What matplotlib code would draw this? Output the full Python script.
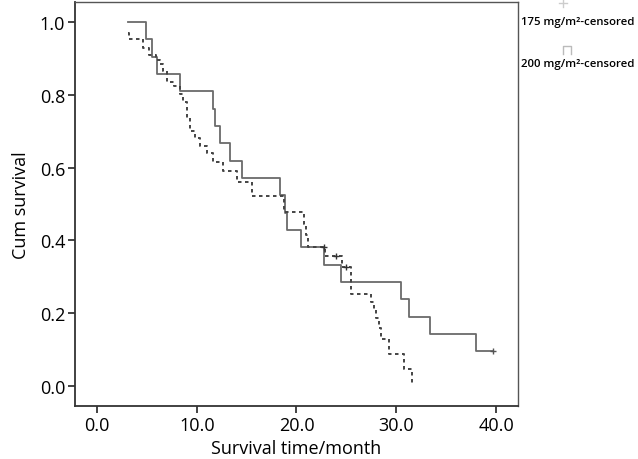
import matplotlib
matplotlib.use("Agg")
import matplotlib.pyplot as plt
from matplotlib.lines import Line2D

# Group 175 mg/m2 (solid): event times and survival after each step
t175 = [3.1, 4.9, 5.5, 6.0, 8.3, 11.6, 11.8, 12.3, 13.3, 14.5, 18.3, 18.8, 19.0,
        20.5, 22.8, 24.5, 30.5, 31.3, 33.4, 38.0, 39.7]
s175 = [1.0, 0.952, 0.905, 0.857, 0.810, 0.762, 0.714, 0.667, 0.619, 0.571, 0.524,
        0.476, 0.429, 0.381, 0.333, 0.286, 0.238, 0.190, 0.143, 0.095, 0.095]
c175_t = [39.7]
c175_s = [0.095]

# Group 200 mg/m2 (dashed)
t200 = [3.1, 3.2, 4.6, 5.2, 5.9, 6.3, 6.6, 7.0, 7.7, 8.3, 8.6, 9.0, 9.3, 9.8, 10.3,
        11.0, 11.6, 12.6, 14.0, 15.5, 18.7, 20.8, 21.0, 21.2, 22.9, 24.6, 25.5,
        27.5, 27.8, 28.0, 28.3, 28.5, 29.3, 30.8, 31.6]
s200 = [0.970, 0.953, 0.928, 0.910, 0.897, 0.884, 0.866, 0.835, 0.825, 0.802, 0.780,
        0.735, 0.700, 0.680, 0.660, 0.640, 0.615, 0.592, 0.560, 0.523, 0.478, 0.445,
        0.415, 0.382, 0.357, 0.327, 0.253, 0.230, 0.210, 0.188, 0.160, 0.129, 0.088,
        0.047, 0.0]
c200_t = [22.8, 24.0, 25.0]
c200_s = [0.382, 0.357, 0.327]

xticks = [0, 10, 20, 30, 40]
yticks = [0.0, 0.2, 0.4, 0.6, 0.8, 1.0]

plt.rcParams['font.family'] = ['Open Sans', 'DejaVu Sans']

fig = plt.figure(figsize=(6.38, 4.60), dpi=100)
ax = fig.add_axes([75/638, 53/460, 443/638, 404/460])

ax.step(t175, s175, where='post', color='#6a6a6a', lw=1.3, ls='-')
ax.step(t200, s200, where='post', color='#444444', lw=1.4, ls=(0, (1.8, 1.8)))
ax.plot(c175_t, c175_s, ls='none', marker='+', ms=5, mew=1.0, color='#555555')
ax.plot(c200_t, c200_s, ls='none', marker='+', ms=5, mew=1.0, color='#333333')

ax.set_xlim(-2.2, 42.2)
ax.set_ylim(-0.055, 1.055)
ax.set_xticks(xticks)
ax.set_xticklabels([f"{v:.1f}" for v in xticks])
ax.set_yticks(yticks)
ax.set_yticklabels([f"{v:.1f}" for v in yticks])
ax.tick_params(direction='out', length=5, width=1.2, color='#222222',
               labelsize=13, labelcolor='#000000', pad=2)
for side in ['left', 'bottom']:
    ax.spines[side].set_color('#333333')
    ax.spines[side].set_linewidth(1.3)
for side in ['top', 'right']:
    ax.spines[side].set_color('#555555')
    ax.spines[side].set_linewidth(1.0)

ax.set_xlabel('Survival time/month', fontsize=13, color='#000000', labelpad=4)
ax.set_ylabel('Cum survival', fontsize=13, color='#000000', labelpad=7)

# Legend at the right edge
fig.text(521/638, 1 - 22/460, '175 mg/m²-censored', fontsize=8.2, color='#000000',
         va='center', ha='left', fontweight='semibold')
fig.text(521/638, 1 - 64/460, '200 mg/m²-censored', fontsize=8.2, color='#000000',
         va='center', ha='left', fontweight='semibold')
# faint legend symbols
fig.add_artist(Line2D([559/638, 567/638], [1 - 4/460, 1 - 4/460], color='#cccccc', lw=1))
fig.add_artist(Line2D([563/638, 563/638], [1 - 0/460, 1 - 8/460], color='#cccccc', lw=1))
fig.add_artist(Line2D([563/638, 563/638, 571/638, 571/638],
                      [1 - 55/460, 1 - 47/460, 1 - 47/460, 1 - 55/460], color='#bbbbbb', lw=1))

fig.savefig('out.png', dpi=100)
